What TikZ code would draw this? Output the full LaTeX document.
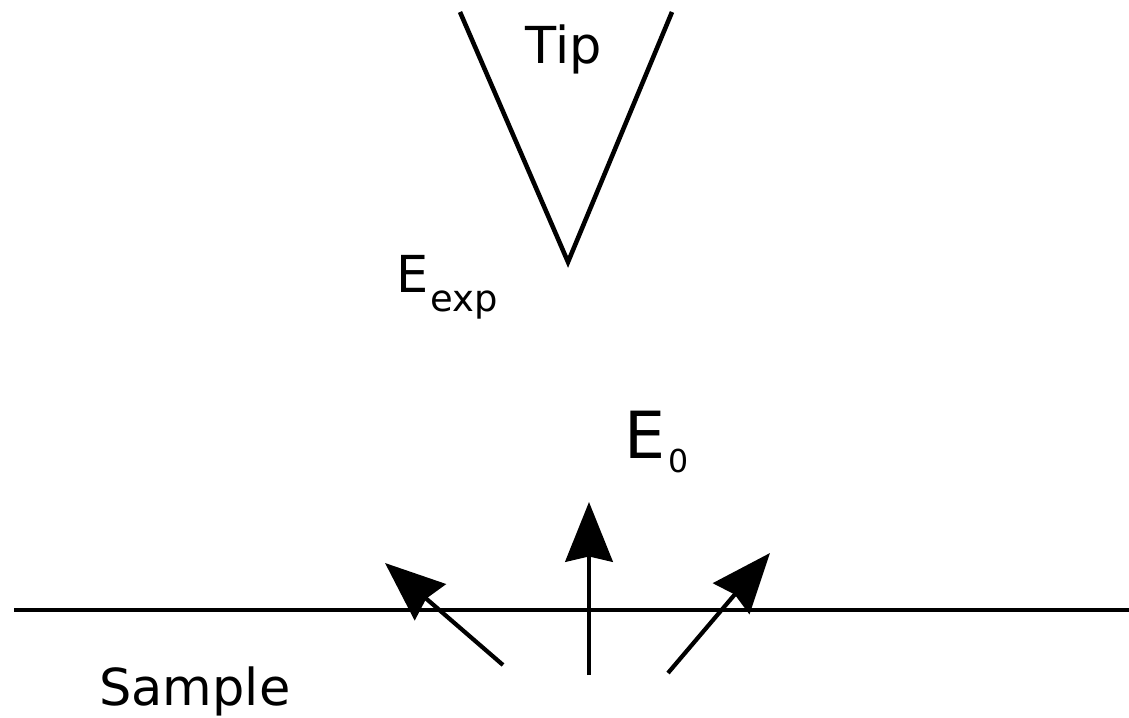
\documentclass[tikz,border=0pt]{standalone}
\usepackage{fontspec}
\setmainfont{DejaVu Sans}
\usepackage{tikz}
\usetikzlibrary{positioning, arrows.meta, calc}
\tikzset{
    wall/.style={
        line width=2.6pt
    },
    emission/.style={
        line width=2.4pt,
        -{Stealth[length=34pt, width=27pt, inset=3pt]}
    },
    bigtext/.style={
        inner sep=0pt,
        font=\fontsize{29}{34}\selectfont
    }
}
\begin{document}
\begin{tikzpicture}[x=0.02cm, y=-0.02cm]
      \useasboundingbox (0,0) rectangle (1129,717);

      % the tip
      \coordinate (tipL)  at (460,12);
      \coordinate (apex)  at (568,262);
      \coordinate (tipR)  at (672,12);
      \draw[wall] (tipL) -- (apex) -- (tipR);
      \node[bigtext, anchor=base] (tiplabel) at (564,63) {Tip};

      % the sample surface
      \coordinate (surfL) at (14,610);
      \coordinate (surfR) at (1129,610);
      \draw[wall] (surfL) -- (surfR);
      \node[bigtext, anchor=base west] (samplelabel) at (99,705) {Sample};

      % energies
      \node[bigtext, anchor=base west] (eexp) at (396,292)
        {E\kern1pt\raisebox{-11.3pt}{\fontsize{21}{25}\selectfont exp}};
      \node[inner sep=0pt, anchor=base west, font=\fontsize{37}{44}\selectfont] (ezero) at (624,458)
        {E\kern1.5pt\raisebox{-8.5pt}{\fontsize{18}{22}\selectfont 0}};

      % emitted electrons
      \coordinate (a1) at (503,665);
      \coordinate (b1) at (385,563);
      \coordinate (a2) at (589,675);
      \coordinate (b2) at (589,502);
      \coordinate (a3) at (668,673);
      \coordinate (b3) at (770,553);
      \draw[emission] (a1) -- (b1);
      \draw[emission] (a2) -- (b2);
      \draw[emission] (a3) -- (b3);
\end{tikzpicture}
\end{document}
